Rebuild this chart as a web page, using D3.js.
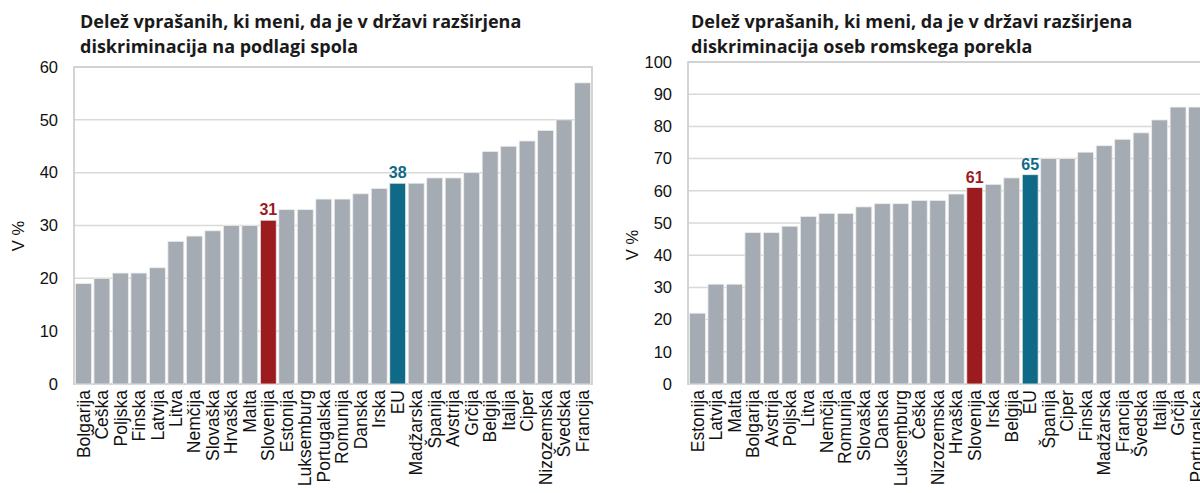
<!DOCTYPE html>
<html><head><meta charset="utf-8">
<script src="https://cdn.jsdelivr.net/npm/d3@7"></script>
<style>
html,body{margin:0;padding:0;background:#fff;overflow:hidden;}
svg{display:block;}
</style></head>
<body>
<svg id="c" width="1200" height="493"></svg>
<script>
const leftCategories = ["Bolgarija","Češka","Poljska","Finska","Latvija","Litva","Nemčija","Slovaška","Hrvaška","Malta","Slovenija","Estonija","Luksemburg","Portugalska","Romunija","Danska","Irska","EU","Madžarska","Španija","Avstrija","Grčija","Belgija","Italija","Ciper","Nizozemska","Švedska","Francija"];
const leftValues = [19,20,21,21,22,27,28,29,30,30,31,33,33,35,35,36,37,38,38,39,39,40,44,45,46,48,50,57];
const leftTicks = [0,10,20,30,40,50,60];
const leftTitle = ["Delež vprašanih, ki meni, da je v državi razširjena","diskriminacija na podlagi spola"];

const rightCategories = ["Estonija","Latvija","Malta","Bolgarija","Avstrija","Poljska","Litva","Nemčija","Romunija","Slovaška","Danska","Luksemburg","Češka","Nizozemska","Hrvaška","Slovenija","Irska","Belgija","EU","Španija","Ciper","Finska","Madžarska","Francija","Švedska","Italija","Grčija","Portugalska"];
const rightValues = [22,31,31,47,47,49,52,53,53,55,56,56,57,57,59,61,62,64,65,70,70,72,74,76,78,82,86,86];
const rightTicks = [0,10,20,30,40,50,60,70,80,90,100];
const rightTitle = ["Delež vprašanih, ki meni, da je v državi razširjena","diskriminacija oseb romskega porekla"];

const yLabel = "V %";
const colGrey = "#a5abb2", colRed = "#9b1b1f", colBlue = "#0f6a87";

const svg = d3.select("#c");

function chart(opt){
  const g = svg.append("g");
  const x = d3.scaleBand().domain(opt.cats).range([opt.x0, opt.x1]).paddingInner(0.14).paddingOuter(0.08);
  const y = d3.scaleLinear().domain([0, opt.max]).range([384, 67 - opt.topShift]);
  g.append("g").selectAll("line").data(opt.ticks).join("line")
    .attr("x1", opt.x0).attr("x2", opt.x1)
    .attr("y1", d=>y(d)).attr("y2", d=>y(d))
    .attr("stroke","#d9d9d9").attr("stroke-width",1.5);
  g.append("rect").attr("x",opt.x0).attr("y",y(opt.max)).attr("width",opt.x1-opt.x0).attr("height",y(0)-y(opt.max))
    .attr("fill","none").attr("stroke","#d0d0d0").attr("stroke-width",1.8);
  const color = c => c==="Slovenija" ? colRed : (c==="EU" ? colBlue : colGrey);
  g.append("g").selectAll("rect").data(opt.cats).join("rect")
    .attr("x", c=>x(c)).attr("width", x.bandwidth())
    .attr("y", (c,i)=>y(opt.vals[i])).attr("height",(c,i)=>y(0)-y(opt.vals[i]))
    .attr("fill", color).attr("stroke","#ececec").attr("stroke-width",0.8);
  g.append("g").selectAll("text").data(opt.cats.filter(c=>c==="Slovenija"||c==="EU")).join("text")
    .attr("x", c=>x(c)+x.bandwidth()/2)
    .attr("y", c=>y(opt.vals[opt.cats.indexOf(c)])-5)
    .attr("text-anchor","middle").attr("font-family","Liberation Sans, Arial, sans-serif")
    .attr("font-weight","bold").attr("font-size",16).attr("fill",color).text(c=>opt.vals[opt.cats.indexOf(c)]);
  const ya = d3.axisLeft(y).tickValues(opt.ticks).tickSize(0).tickPadding(opt.x0 - opt.tickRight);
  const yg = g.append("g").attr("transform",`translate(${opt.x0},0)`).call(ya);
  yg.select(".domain").remove();
  yg.selectAll("text").attr("font-family","Liberation Sans, Arial, sans-serif").attr("font-size",16.5).attr("fill","#111");
  const xa = d3.axisBottom(x).tickSize(0).tickPadding(0);
  const xg = g.append("g").attr("transform",`translate(0,${y(0)})`).call(xa);
  xg.select(".domain").remove();
  xg.selectAll("text").attr("font-family","Liberation Sans, Arial, sans-serif").attr("font-size",17.5).attr("fill","#111")
    .attr("transform","rotate(-90)").attr("text-anchor","end").attr("dy","0.35em").attr("x",-6).attr("y",0);
  g.append("text").attr("transform",`translate(${opt.ylx},${opt.yly}) rotate(-90)`)
    .attr("text-anchor","middle").attr("font-family","Liberation Sans, Arial, sans-serif").attr("font-size",16.5).attr("fill","#111").text(yLabel);
  g.append("text").attr("font-family","'Open Sans', sans-serif").attr("font-weight","700").attr("font-size",18).attr("fill","#1a1a1a")
    .selectAll("tspan").data(opt.title).join("tspan").attr("x",opt.tx).attr("y",(d,i)=>28+i*25).text(d=>d);
}

chart({cats:leftCategories, vals:leftValues, ticks:leftTicks, max:60, x0:74, x1:592, topShift:0, tickRight:58, ylx:24, yly:236, title:leftTitle, tx:80});
chart({cats:rightCategories, vals:rightValues, ticks:rightTicks, max:100, x0:688, x1:1206, topShift:5, tickRight:672, ylx:638, yly:245, title:rightTitle, tx:691});
</script>
</body></html>
